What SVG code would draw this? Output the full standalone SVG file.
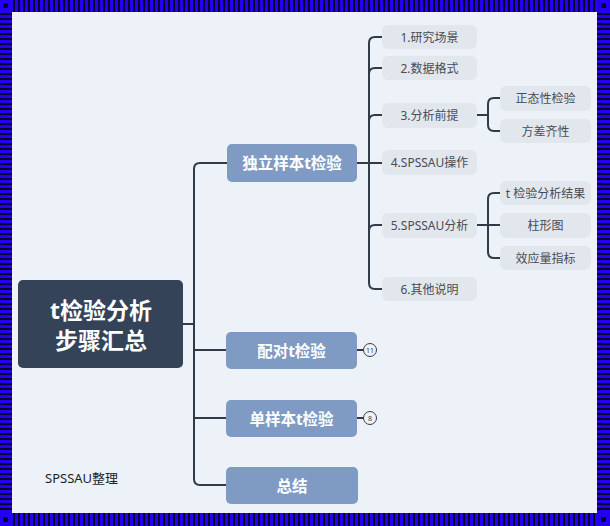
<svg xmlns="http://www.w3.org/2000/svg" width="610" height="526" viewBox="0 0 610 526">
<defs>
<pattern id="vs" x="0" y="0" width="5" height="13" patternUnits="userSpaceOnUse"><rect width="5" height="13" fill="#2400f2"/><rect x="3" width="2" height="13" fill="#0a0030"/></pattern>
<pattern id="hs" x="0" y="0" width="13" height="5" patternUnits="userSpaceOnUse"><rect width="13" height="5" fill="#2400f2"/><rect y="3" width="13" height="2" fill="#0a0030"/></pattern>
<style>
.t{font-family:"Noto Sans","Noto Sans CJK SC",sans-serif;text-anchor:middle;dominant-baseline:central}
.root rect{fill:#344358}
.root text{fill:#fff;font-size:23px;font-weight:bold}
.br rect{fill:#7f9bc3}
.br text{fill:#fff;font-size:15.5px;font-weight:bold}
.lf rect{fill:#e2e7ee}
.lf text{fill:#474c55;font-size:12px}
.con path{fill:none;stroke:#323b48;stroke-width:2;stroke-linecap:round;stroke-linejoin:round}
.badge circle{fill:#edf2f9;stroke:#323b48;stroke-width:1}
.badge text{fill:#323b48;font-size:7px}
</style>
</defs>
<rect width="610" height="526" fill="#edf2f9"/>
<!-- border -->
<rect x="0" y="0" width="610" height="12" fill="url(#vs)"/>
<rect x="0" y="513" width="610" height="13" fill="url(#vs)"/>
<rect x="0" y="0" width="12" height="526" fill="url(#hs)"/>
<rect x="597" y="0" width="13" height="526" fill="url(#hs)"/>
<g fill="#2400f2"><rect x="0" y="0" width="12" height="12"/><rect x="597" y="0" width="13" height="12"/><rect x="0" y="513" width="12" height="13"/><rect x="597" y="513" width="13" height="13"/></g>
<g fill="#0a0030"><rect x="3" y="3" width="5" height="5"/><rect x="601" y="3" width="5" height="5"/><rect x="3" y="517" width="5" height="5"/><rect x="601" y="517" width="5" height="5"/></g>

<g class="con">
<path d="M183 324 H194"/>
<path d="M227 163 H200 Q194 163 194 169 V479 Q194 485 200 485 H226"/>
<path d="M194 350 H226"/>
<path d="M194 418 H226"/>
<path d="M357 163 H382"/>
<path d="M382 37 H375 Q369 37 369 43 V283 Q369 289 375 289 H382"/>
<path d="M369 74 Q369 68 375 68 H382"/>
<path d="M369 121 Q369 115 375 115 H382"/>
<path d="M369 231 Q369 225 375 225 H382"/>
<path d="M477 115 H488"/>
<path d="M500 98 H494 Q488 98 488 104 V125 Q488 131 494 131 H500"/>
<path d="M477 225 H500"/>
<path d="M500 193 H494 Q488 193 488 199 V252 Q488 258 494 258 H500"/>
<path d="M357 350 H363" stroke-width="1"/>
<path d="M357 418 H363" stroke-width="1"/>
</g>

<g id="root" class="root"><rect x="18" y="280" width="165" height="88" rx="5"/><text class="t" x="101" y="310">t检验分析</text><text class="t" x="101" y="340">步骤汇总</text></g>

<g id="n-indep" class="br"><rect x="227" y="144" width="130" height="38" rx="5"/><text class="t" x="292" y="163">独立样本t检验</text></g>
<g id="n-paired" class="br"><rect x="226" y="332" width="131" height="37" rx="5"/><text class="t" x="291.5" y="350.5">配对t检验</text></g>
<g id="n-single" class="br"><rect x="226" y="400" width="131" height="37" rx="5"/><text class="t" x="291.5" y="418.5">单样本t检验</text></g>
<g id="n-summary" class="br"><rect x="226" y="467" width="132" height="37" rx="5" fill="#89a4ca"/><text class="t" x="292" y="485.5">总结</text></g>

<g id="b-paired" class="badge"><circle cx="370" cy="350" r="6.5"/><text class="t" x="370" y="350.5">11</text></g>
<g id="b-single" class="badge"><circle cx="370" cy="418" r="6.5"/><text class="t" x="370" y="418.5">8</text></g>

<g id="l1" class="lf"><rect x="382" y="25" width="95" height="24" rx="6"/><text class="t" x="429.5" y="37">1.研究场景</text></g>
<g id="l2" class="lf"><rect x="382" y="56" width="95" height="24" rx="6"/><text class="t" x="429.5" y="68">2.数据格式</text></g>
<g id="l3" class="lf"><rect x="382" y="103" width="95" height="25" rx="6"/><text class="t" x="429.5" y="115.5">3.分析前提</text></g>
<g id="l4" class="lf"><rect x="382" y="150" width="95" height="25" rx="6"/><text class="t" x="429.5" y="162.5">4.SPSSAU操作</text></g>
<g id="l5" class="lf"><rect x="382" y="213" width="95" height="25" rx="6"/><text class="t" x="429.5" y="225.5">5.SPSSAU分析</text></g>
<g id="l6" class="lf"><rect x="382" y="277" width="95" height="24" rx="6"/><text class="t" x="429.5" y="289">6.其他说明</text></g>

<g id="l3a" class="lf"><rect x="500" y="86" width="91" height="25" rx="6"/><text class="t" x="545.5" y="98.5">正态性检验</text></g>
<g id="l3b" class="lf"><rect x="500" y="119" width="91" height="24" rx="6"/><text class="t" x="545.5" y="131">方差齐性</text></g>
<g id="l5a" class="lf"><rect x="500" y="181" width="91" height="24" rx="6"/><text class="t" x="545.5" y="193">t 检验分析结果</text></g>
<g id="l5b" class="lf"><rect x="500" y="213" width="91" height="25" rx="6"/><text class="t" x="545.5" y="225.5">柱形图</text></g>
<g id="l5c" class="lf"><rect x="500" y="246" width="91" height="24" rx="6"/><text class="t" x="545.5" y="258">效应量指标</text></g>

<text id="credit" x="45" y="478" font-family="Noto Sans, Noto Sans CJK SC, sans-serif" font-size="13" fill="#1e1e1e" dominant-baseline="central">SPSSAU整理</text>
</svg>
